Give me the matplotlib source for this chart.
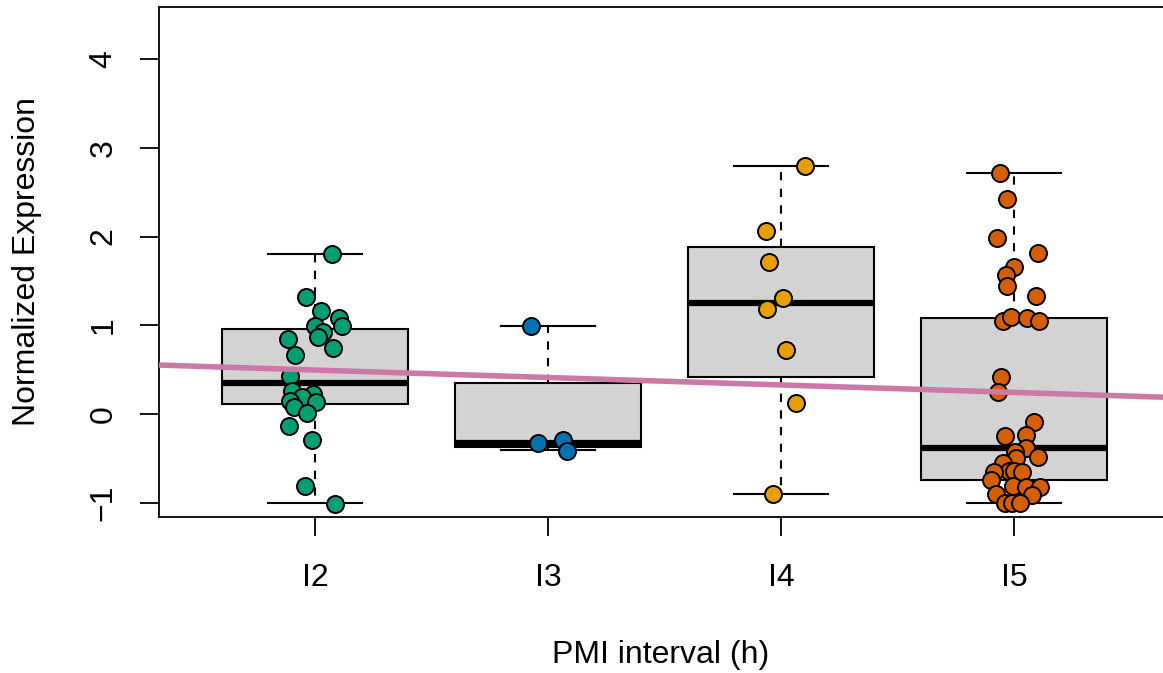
import numpy as np
import matplotlib.pyplot as plt

plt.rcParams['font.family'] = ['Liberation Sans', 'DejaVu Sans']

groups = ['I2', 'I3', 'I4', 'I5']
colors = ['#009E73', '#0072B2', '#E69F00', '#D55E00']

# box statistics
q1 = [0.113, -0.37, 0.42, -0.744]
med = [0.35, -0.33, 1.247, -0.38]
q3 = [0.958, 0.345, 1.878, 1.078]
whislo = [-1.0, -0.41, -0.905, -1.006]
whishi = [1.80, 0.99, 2.79, 2.712]

# jittered points (x position, value)
i2_x = [1.072, 0.961, 1.024, 1.102, 1.114, 1.0, 1.034, 1.014, 0.885, 1.079, 0.914,
        0.893, 0.9, 0.993, 0.943, 0.893, 1.004, 0.911, 0.967, 0.888, 0.986, 0.957, 1.086]
i2_y = [1.80, 1.322, 1.164, 1.078, 0.995, 0.995, 0.928, 0.871, 0.842, 0.740, 0.668,
        0.428, 0.259, 0.222, 0.195, 0.15, 0.139, 0.083, 0.015, -0.135, -0.293, -0.811, -1.014]
i3_x = [1.927, 1.958, 2.063, 2.082]
i3_y = [0.995, -0.33, -0.293, -0.417]
i4_x = [3.103, 2.936, 2.948, 3.009, 2.940, 3.021, 3.064, 2.964]
i4_y = [2.794, 2.062, 1.713, 1.303, 1.187, 0.721, 0.128, -0.905]
i5_x = [3.941, 3.970, 3.926, 4.102, 4.0, 3.964, 3.969, 4.093, 3.954, 3.988, 4.057, 4.107,
        3.943, 3.933, 4.085, 3.961, 4.053, 4.05, 4.003, 4.103, 4.010, 3.953, 3.979, 3.914,
        4.0, 4.036, 3.9, 3.997, 4.05, 4.11, 3.924, 4.076, 3.961, 3.993, 4.026]
i5_y = [2.712, 2.419, 1.986, 1.818, 1.66, 1.566, 1.446, 1.33, 1.052, 1.097, 1.085, 1.048,
        0.413, 0.244, -0.086, -0.244, -0.237, -0.38, -0.432, -0.488, -0.5, -0.556, -0.642, -0.65,
        -0.642, -0.65, -0.744, -0.811, -0.819, -0.819, -0.905, -0.913, -0.999, -1.006, -1.006]

# regression line ends
fit_x = [0.33, 4.64]
fit_y = [0.552, 0.19]

fig = plt.figure(figsize=(11.63, 6.73), dpi=100)
ax = fig.add_axes([159 / 1163, 1 - 517 / 673, 1 - 159 / 1163, 510 / 673])

stats = []
for i in range(4):
    stats.append({'q1': q1[i], 'med': med[i], 'q3': q3[i],
                  'whislo': whislo[i], 'whishi': whishi[i], 'fliers': []})

ax.bxp(stats, positions=[1, 2, 3, 4], widths=0.8, patch_artist=True,
       boxprops=dict(facecolor='#D3D3D3', edgecolor='black', linewidth=1.5),
       medianprops=dict(color='black', linewidth=4.5, solid_capstyle='butt'),
       whiskerprops=dict(color='black', linewidth=1.5, linestyle=(0, (4, 4))),
       capprops=dict(color='black', linewidth=1.5),
       capwidths=0.4, zorder=1)

xs = [i2_x, i3_x, i4_x, i5_x]
ys = [i2_y, i3_y, i4_y, i5_y]
for x, y, c in zip(xs, ys, colors):
    ax.scatter(x, y, s=150, c=c, edgecolors='black', linewidths=1.4, zorder=3)

ax.plot(fit_x, fit_y, color='#CC79A7', linewidth=4, zorder=4)

ax.set_xlim(0.33, 4.64)
ax.set_ylim(-1.16, 4.586)
ax.set_xticks([1, 2, 3, 4])
ax.set_xticklabels(groups)
ax.set_yticks([-1, 0, 1, 2, 3, 4])
ax.set_yticklabels(['\u22121', '0', '1', '2', '3', '4'], rotation=90, va='center')
ax.tick_params(labelsize=23, length=14, width=1.3)
ax.tick_params(axis='x', pad=19)
ax.tick_params(axis='y', pad=15)
ax.spines['right'].set_visible(False)
for s in ['left', 'top', 'bottom']:
    ax.spines[s].set_linewidth(1.3)

ax.set_xlabel('PMI interval (h)', fontsize=23, labelpad=34)
ax.set_ylabel('Normalized Expression', fontsize=23, labelpad=34)

plt.savefig('out.png', dpi=100)
